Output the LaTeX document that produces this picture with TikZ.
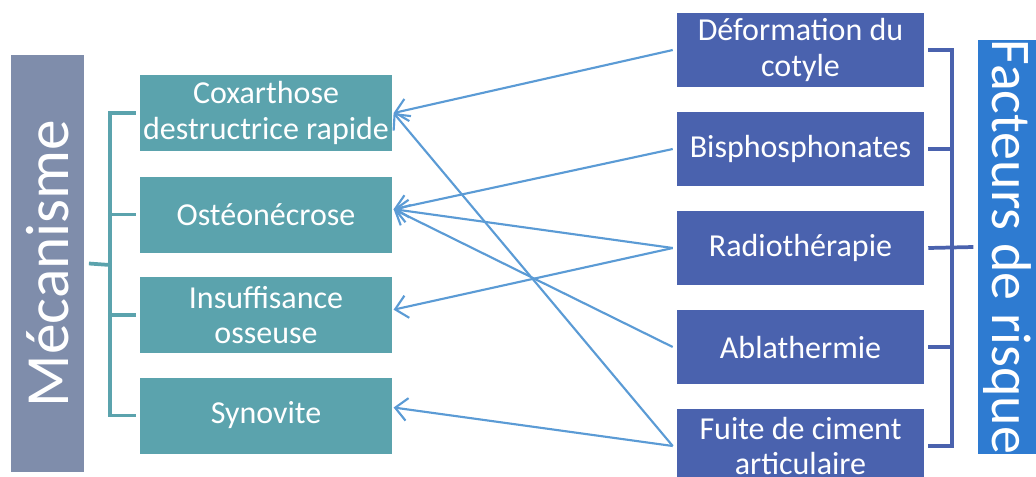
\documentclass[tikz,border=0pt]{standalone}
\usepackage{fontspec}
\setmainfont{Carlito}
\usetikzlibrary{arrows.meta}
\definecolor{mecagray}{HTML}{7F8DAB}
\definecolor{tealbox}{HTML}{5BA3AD}
\definecolor{navybox}{HTML}{4A62AE}
\definecolor{factblue}{HTML}{2E7BD1}
\definecolor{arrblue}{HTML}{5B9BD5}
\begin{document}
\begin{tikzpicture}[x=0.75pt, y=-0.75pt,
      mbox/.style={rectangle,fill=tealbox,text=white,minimum width=189pt,minimum height=57pt,inner sep=0pt,align=center,font=\fontsize{24}{26.5}\selectfont},
      fbox/.style={rectangle,fill=navybox,text=white,minimum width=185.25pt,minimum height=55.5pt,inner sep=0pt,align=center,font=\fontsize{24}{26.5}\selectfont},
      arr/.style={-{Straight Barb[length=9pt,width=17pt,line width=1.6pt]},arrblue,line width=1.6pt},
      lbrk/.style={tealbox,line width=2.8pt},
      rbrk/.style={navybox,line width=2.8pt}
    ]
      \useasboundingbox (0,0) rectangle (1036,476);
      \clip (0,0) rectangle (1036,476);

      % Mecanisme column
      \node[rectangle,fill=mecagray,text=white,rotate=90,minimum width=312.75pt,minimum height=54.75pt,inner sep=0pt,font=\fontsize{46}{50}\selectfont] (meca) at (47.5,263.5) {Mécanisme};
      \node[mbox] (cdr) at (266,113)   {Coxarthose\\destructrice rapide};
      \node[mbox] (osn) at (266,214.5) {Ostéonécrose};
      \node[mbox] (ins) at (266,315)   {Insuffisance\\osseuse};
      \node[mbox] (syn) at (266,415.5) {Synovite};
      \coordinate (lspine) at (110,265);
      \foreach \n in {cdr,osn,ins,syn} \draw[lbrk] ([xshift=-3pt]\n.west) -| (lspine);
      \draw[lbrk] ([xshift=3.5pt]meca.south) -- (lspine);

      % Facteurs de risque column
      \node[rectangle,fill=factblue,text=white,rotate=-90,minimum width=307.5pt,minimum height=52pt,inner sep=0pt,text height=37pt,font=\fontsize{42}{46}\selectfont] (fdr) at (1013,247) {Facteurs de risque};
      \node[fbox] (def) at (800.5,50)  {Déformation du\\cotyle};
      \node[fbox] (bis) at (800.5,149) {Bisphosphonates};
      \node[fbox] (rad) at (800.5,248) {Radiothérapie};
      \node[fbox] (abl) at (800.5,347) {Ablathermie};
      \node[fbox] (fui) at (800.5,446) {Fuite de ciment\\articulaire};
      \coordinate (rspine) at (952,248);
      \foreach \n in {def,bis,abl,fui} \draw[rbrk] ([xshift=3pt]\n.east) -| (rspine);
      \draw[rbrk] ([xshift=3pt]rad.east) -- ([xshift=-3.5pt]fdr.south);

      % links
      \draw[arr] ([xshift=-3pt]def.west) -- ([xshift=1pt]cdr.east);
      \draw[arr] ([xshift=-3pt]bis.west) -- ([xshift=1pt,yshift=4pt]osn.east);
      \draw[arr] ([xshift=-3pt]rad.west) -- ([xshift=1pt,yshift=4pt]osn.east);
      \draw[arr] ([xshift=-3pt]rad.west) -- ([xshift=1pt,yshift=4pt]ins.east);
      \draw[arr] ([xshift=-3pt]abl.west) -- ([xshift=1pt,yshift=4pt]osn.east);
      \draw[arr] ([xshift=-3pt]fui.west) -- ([xshift=1pt]cdr.east);
      \draw[arr] ([xshift=-3pt]fui.west) -- ([xshift=1pt,yshift=6pt]syn.east);
    \end{tikzpicture}
\end{document}
